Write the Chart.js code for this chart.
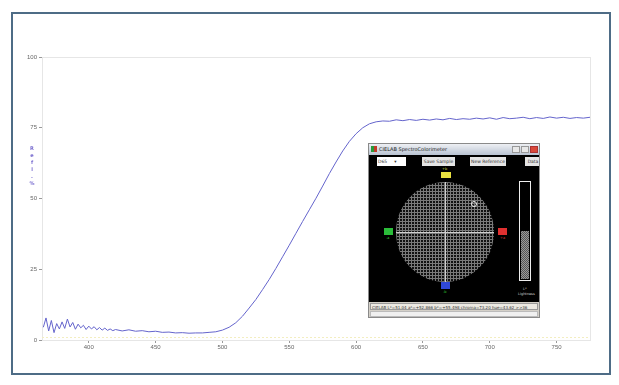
<!DOCTYPE html>
<html>
<head>
<meta charset="utf-8">
<script src="https://cdn.jsdelivr.net/npm/chart.js@4.4.1/dist/chart.umd.min.js"></script>
<style>
  body { margin: 0; background: #fff; font-family: "DejaVu Sans", sans-serif; }
  #page { position: relative; width: 619px; height: 385px; overflow: hidden; }
  #frame { position: absolute; left: 11px; top: 12px; width: 596px; height: 359px; border: 2px solid #4e6c86; pointer-events: none; }
  #win { position: absolute; left: 368px; top: 143px; width: 172px; height: 175px; background: #d4d0c8; border: 1px solid #8a8a8a; box-sizing: border-box; overflow: hidden; }
  #win .title { position: absolute; left: 0; top: 0; right: 0; height: 11px; background: linear-gradient(#eef0f4, #b9c3d2); font-size: 5px; line-height: 11px; color: #222; padding-left: 10px; }
  #win .icon { position: absolute; left: 2px; top: 2px; width: 6px; height: 6px; background: linear-gradient(90deg, #2a9a3a 50%, #c23a2a 50%); }
  #win .tb { position: absolute; top: 2px; width: 8px; height: 7px; background: #e8e8e8; border: 1px solid #999; box-sizing: border-box; }
  #win .body { position: absolute; left: 0; top: 11px; right: 0; height: 147px; background: #000; }
  #win .btn { position: absolute; top: 2px; height: 9px; background: #e4e4e4; font-size: 4.5px; line-height: 9px; text-align: center; color: #333; }
  #win .circle { position: absolute; left: 27px; top: 27px; width: 98px; height: 100px; border-radius: 50%;
    background-color: #111;
    background-image: linear-gradient(#7a7a7a 1px, transparent 1px), linear-gradient(90deg, #7a7a7a 1px, transparent 1px);
    background-size: 3px 3px; }
  #win .hx { position: absolute; left: 27px; top: 77px; width: 98px; height: 1px; background: #cfcfcf; }
  #win .vx { position: absolute; left: 76px; top: 27px; width: 1px; height: 100px; background: #cfcfcf; }
  #win .patch { position: absolute; width: 10px; height: 6px; }
  #win .lab { position: absolute; font-size: 3.5px; color: #ccc; }
  #win .bar { position: absolute; left: 150px; top: 26px; width: 12px; height: 100px; border: 1px solid #eee; box-sizing: border-box; background: #000; }
  #win .fill { position: absolute; left: 1px; right: 1px; bottom: 1px; height: 48px;
    background-color: #555;
    background-image: linear-gradient(45deg, #999 25%, transparent 25%, transparent 75%, #999 75%), linear-gradient(45deg, #999 25%, transparent 25%, transparent 75%, #999 75%);
    background-size: 2px 2px; background-position: 0 0, 1px 1px; }
  #win .status { position: absolute; left: 1px; right: 1px; top: 159px; height: 7px; font-size: 4px; line-height: 7px; color: #333; white-space: nowrap; border: 1px solid #999; box-sizing: border-box; padding-left: 1px; background: #ece9e2; }
  #win .scroll { position: absolute; left: 1px; right: 1px; top: 167px; height: 6px; background: #f0f0f0; border: 1px solid #bbb; box-sizing: border-box; }
</style>
</head>
<body>
<div id="page">
  <canvas id="spectrum" width="619" height="385"></canvas>
  <div id="frame"></div>
  <div id="win">
    <div class="title"><div class="icon"></div>CIELAB SpectroColorimeter
      <div class="tb" style="left:143px"></div>
      <div class="tb" style="left:152px"></div>
      <div class="tb" style="left:161px;background:#d9483a;border-color:#a33"></div>
    </div>
    <div class="body">
      <div class="btn" style="left:8px;width:28px;background:#fff;text-align:left;padding-left:1px">D65 &nbsp;&nbsp;&nbsp;&nbsp;▾</div>
      <div class="btn" style="left:53px;width:33px">Save Sample</div>
      <div class="btn" style="left:101px;width:36px">New Reference</div>
      <div class="btn" style="left:156px;width:16px">Data</div>
      <div class="lab" style="left:73px;top:12px;color:#cc4">+b</div>
      <div class="patch" style="left:72px;top:17px;background:#e8e040"></div>
      <div class="circle"></div>
      <div class="hx"></div>
      <div class="vx"></div>
      <div class="patch" style="left:15px;top:73px;width:9px;height:7px;background:#2bbd3a"></div>
      <div class="lab" style="left:17px;top:81px;color:#3c3">-a</div>
      <div class="patch" style="left:129px;top:73px;width:9px;height:7px;background:#e03030"></div>
      <div class="lab" style="left:131px;top:81px;color:#d33">+a</div>
      <div class="patch" style="left:72px;top:127px;width:9px;height:7px;background:#3048d8"></div>
      <div class="lab" style="left:74px;top:135px;color:#3c3">-b</div>
      <div style="position:absolute;left:102px;top:46px;width:4px;height:4px;border:1px solid #eee;border-radius:50%"></div>
      <div class="bar"><div class="fill"></div></div>
      <div class="lab" style="left:154px;top:132px">L*</div>
      <div class="lab" style="left:149px;top:137px">Lightness</div>
    </div>
    <div class="status">CIELAB L*=51.04 a*=+52.866 b*=+55.498 chroma=73.20 hue=43.62 &gt;&gt;36</div>
    <div class="scroll"></div>
  </div>
</div>
<script>
// wavelength (nm) and reflectance (%)
const wavelengths = [
  366, 368, 370, 372, 374, 376, 378, 380, 382, 384, 386, 388, 390, 392,
  394, 396, 398, 400, 402, 404, 406, 408, 410, 412, 414, 416, 418, 420,
  425, 430, 435, 440, 445, 450, 455, 460, 465, 470, 475, 480, 485, 490,
  495, 500, 505, 510, 515, 520, 525, 530, 535, 540, 545, 550, 555, 560,
  565, 570, 575, 580, 585, 590, 595, 600, 605, 610, 615, 620, 625, 630,
  635, 640, 645, 650, 655, 660, 665, 670, 675, 680, 685, 690, 695, 700,
  705, 710, 715, 720, 725, 730, 735, 740, 745, 750, 755, 760, 765, 770, 775
];
const reflectance = [
  4.5, 7.8, 3.2, 6.9, 2.6, 5.8, 3.9, 6.4, 4.1, 7.4, 4.6, 6.2, 3.8, 5.6,
  4.3, 5.2, 3.7, 4.9, 3.9, 4.7, 3.6, 4.4, 3.5, 4.2, 3.4, 3.9, 3.3, 3.7,
  3.2, 3.6, 3.1, 3.3, 2.9, 3.1, 2.7, 2.8, 2.5, 2.6, 2.4, 2.5, 2.5, 2.7,
  2.9, 3.5, 4.5, 6.1, 8.4, 11.3, 14.3, 17.8, 21.4, 25.3, 29.4, 33.5, 37.7, 41.9,
  46.0, 50.1, 54.4, 58.8, 62.9, 66.8, 70.2, 72.9, 75.0, 76.4, 77.1, 77.4, 77.3, 77.8,
  77.5, 77.9, 77.6, 78.0, 77.7, 78.1, 77.8, 78.3, 77.9, 78.2, 78.0, 78.4, 78.1, 78.5,
  78.0, 78.6, 78.2, 78.4, 78.7, 78.2, 78.6, 78.3, 78.8, 78.4, 78.7, 78.3, 78.6, 78.4, 78.7
];
const xTicks = [400, 450, 500, 550, 600, 650, 700, 750];
const yTicks = [0, 25, 50, 75, 100];
const yTitle = 'Refl.%';

// faint box round the plot plus stacked axis title
const plotDecor = {
  id: 'plotDecor',
  beforeDatasetsDraw(chart) {
    const { ctx, chartArea: a } = chart;
    ctx.save();
    ctx.strokeStyle = '#e6e6e6';
    ctx.lineWidth = 1;
    ctx.strokeRect(a.left + 0.5, a.top + 0.5, a.right - a.left, a.bottom - a.top);
    ctx.strokeStyle = '#f3eec0';
    ctx.setLineDash([2, 2]);
    ctx.beginPath();
    ctx.moveTo(a.left, a.bottom - 2.5);
    ctx.lineTo(a.right, a.bottom - 2.5);
    ctx.stroke();
    ctx.restore();
  },
  afterDraw(chart) {
    const { ctx } = chart;
    ctx.save();
    ctx.fillStyle = '#7b6fd0';
    ctx.font = 'bold 5px "DejaVu Sans"';
    ctx.textAlign = 'center';
    for (let i = 0; i < yTitle.length; i++) {
      ctx.fillText(yTitle[i], 32, 150 + i * 7);
    }
    ctx.restore();
  }
};

new Chart(document.getElementById('spectrum'), {
  type: 'line',
  data: {
    datasets: [{
      data: wavelengths.map((w, i) => ({ x: w, y: reflectance[i] })),
      borderColor: '#6464cc',
      borderWidth: 1,
      pointRadius: 0,
      tension: 0,
      fill: false
    }]
  },
  options: {
    responsive: false,
    animation: false,
    layout: { padding: { left: 0, top: 57, right: 29, bottom: 25 } },
    plugins: { legend: { display: false }, tooltip: { enabled: false } },
    scales: {
      x: {
        type: 'linear',
        min: 365,
        max: 775,
        afterFit(scale) { scale.height = 20; },
        afterBuildTicks(scale) { scale.ticks = xTicks.map(v => ({ value: v })); },
        grid: { drawOnChartArea: false, tickLength: 3, color: '#999' },
        border: { color: '#bdbdbd' },
        ticks: { font: { size: 6 }, color: '#666', padding: 1 }
      },
      y: {
        min: 0,
        max: 100,
        afterFit(scale) { scale.width = 42; },
        afterBuildTicks(scale) { scale.ticks = yTicks.map(v => ({ value: v })); },
        grid: { drawOnChartArea: false, tickLength: 3, color: '#999' },
        border: { color: '#bdbdbd' },
        ticks: { font: { size: 6 }, color: '#666', padding: 2 }
      }
    }
  },
  plugins: [plotDecor]
});
</script>
</body>
</html>
